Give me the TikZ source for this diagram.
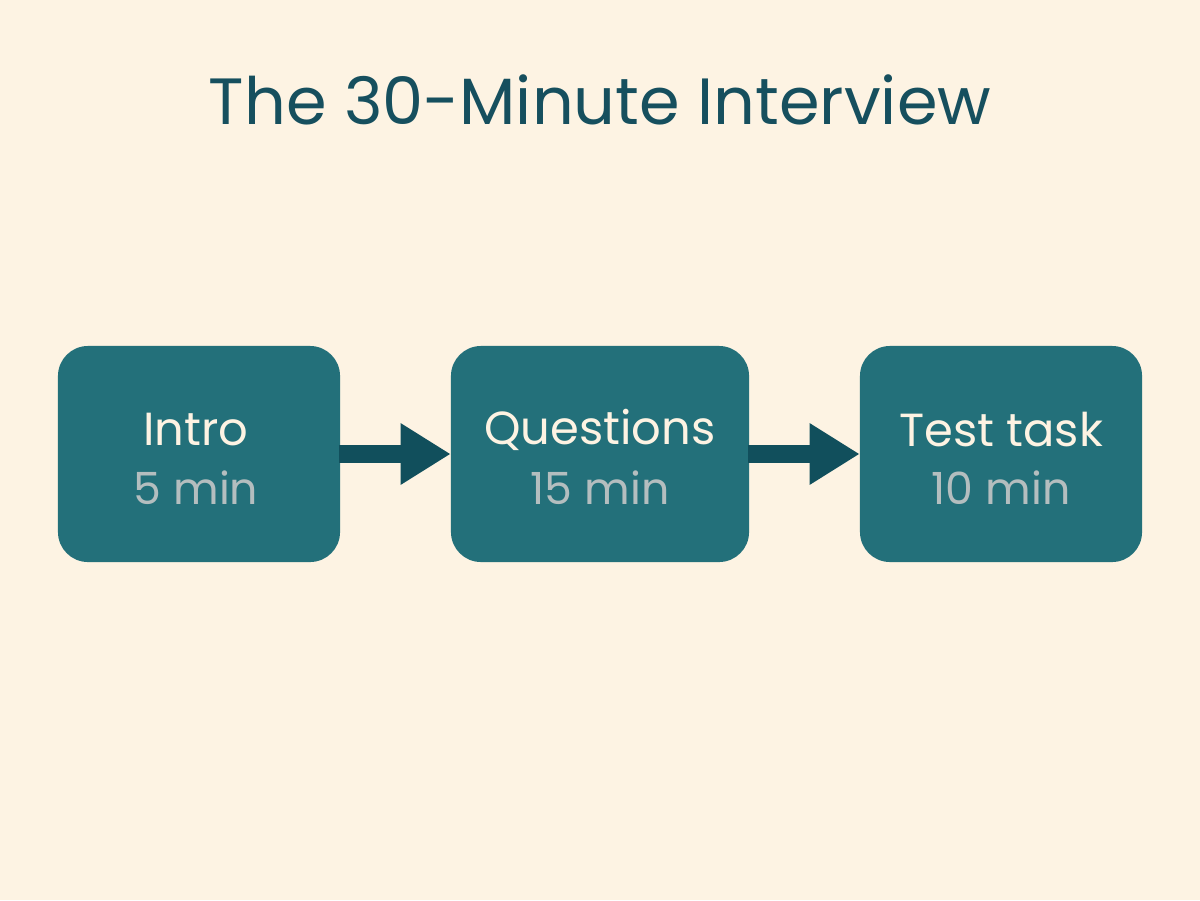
\documentclass[tikz,border=0pt]{standalone}
\usepackage{fontspec}
\setmainfont{Poppins}
\usetikzlibrary{arrows.meta}
\definecolor{bg}{HTML}{FDF3E3}
\definecolor{boxfill}{HTML}{23707A}
\definecolor{arrowc}{HTML}{114F5C}
\definecolor{titlec}{HTML}{164F5E}
\definecolor{subc}{HTML}{B4BEBF}
\begin{document}
\begin{tikzpicture}[x=0.025cm,y=-0.025cm,
  stagebox/.style={fill=boxfill, draw=none, rounded corners=0.75cm, minimum width=7.05cm, minimum height=5.4cm, align=center, inner sep=0pt},
  flowarrow/.style={draw=arrowc, line width=0.45cm, -{Triangle[length=1.25cm,width=1.45cm]}, shorten <=-1pt, shorten >=0pt},
  maintext/.style={text=bg, font=\fontsize{33pt}{40pt}\selectfont},
  subtext/.style={text=subc, font=\fontsize{31.5pt}{40pt}\selectfont}]
\fill[bg] (0,0) rectangle (1200,900);
\useasboundingbox (0,0) rectangle (1200,900);
\node[text=titlec, font=\fontsize{46.5pt}{56pt}\selectfont] (title) at (600,100) {The 30-Minute Interview};
\node[stagebox] (b1) at (199,454) {};
\node[stagebox, minimum width=7.45cm] (b2) at (600,454) {};
\node[stagebox] (b3) at (1001,454) {};
\node[maintext] (t1) at (196,430) {Intro};
\node[subtext] (s1) at (196,488) {5 min};
\node[maintext] (t2) at (600,430) {Questions};
\node[subtext] (s2) at (600,488) {15 min};
\node[maintext] (t3) at (1001,430) {Test task};
\node[subtext] (s3) at (1001,488) {10 min};
\draw[flowarrow] (b1.east |- 0,454) -- (b2.west |- 0,454);
\draw[flowarrow] (b2.east |- 0,454) -- (b3.west |- 0,454);
\end{tikzpicture}
\end{document}
